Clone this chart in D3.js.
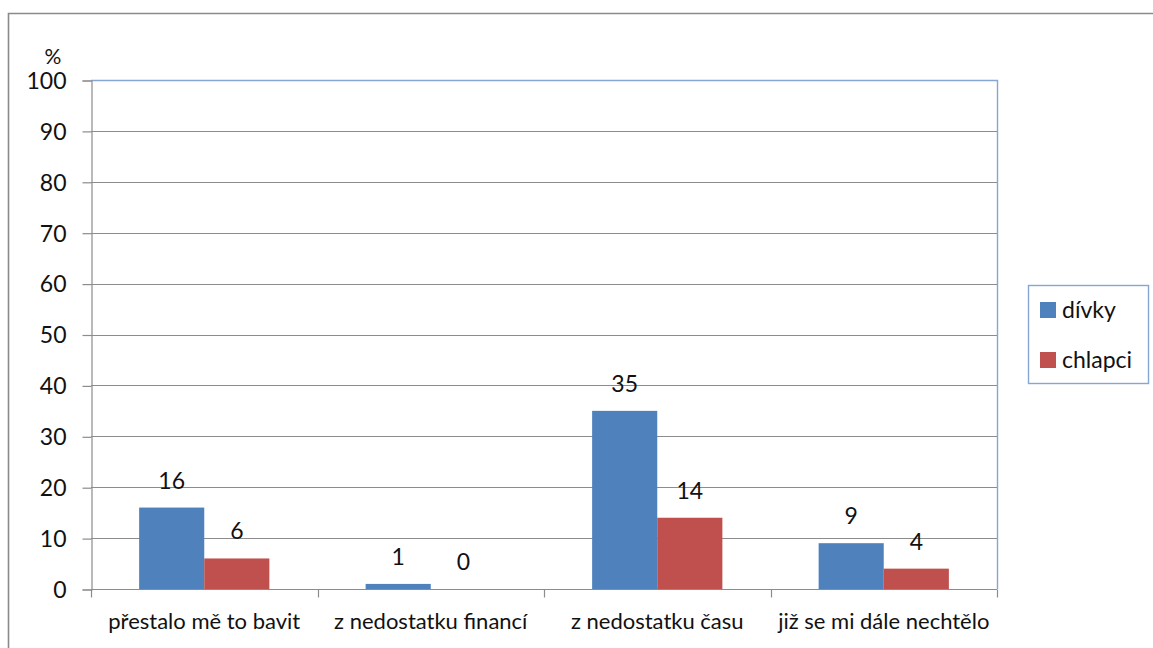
<!DOCTYPE html>
<html>
<head>
<meta charset="utf-8">
<script src="https://cdn.jsdelivr.net/npm/d3@7"></script>
<style>
  html, body { margin: 0; padding: 0; background: #fff; overflow: hidden; }
  svg { display: block; }
  text { font-family: Lato, "Open Sans", sans-serif; fill: #111; }
</style>
</head>
<body>
<svg id="chart" width="1153" height="648"></svg>
<script>
// Reasons for quitting, percent of respondents
const categories = ["přestalo mě to bavit", "z nedostatku financí", "z nedostatku času", "již se mi dále nechtělo"];
const seriesNames = ["dívky", "chlapci"];
const divky = [16, 1, 35, 9];
const chlapci = [6, 0, 14, 4];
const yTicks = [0, 10, 20, 30, 40, 50, 60, 70, 80, 90, 100];
const colors = ["#4f81bd", "#c0504d"];

const svg = d3.select("#chart");
const W = 1153, H = 648;
const plot = { left: 91, right: 997, top: 80, bottom: 589 };

// outer frame (runs off the right and bottom edges)
svg.append("path")
  .attr("d", `M8.5,${H + 5} V13.5 H${W + 5}`)
  .attr("fill", "none")
  .attr("stroke", "#8a8a8a")
  .attr("stroke-width", 1.6);

const x0 = d3.scaleBand().domain(categories).range([plot.left, plot.right]).paddingInner(0).paddingOuter(0);
const groupW = x0.bandwidth() * 0.575;
const x1 = d3.scaleBand().domain(seriesNames).range([0, groupW]).padding(0);
const y = d3.scaleLinear().domain([0, 100]).range([plot.bottom, plot.top]);

// gridlines
svg.append("g")
  .selectAll("line")
  .data(yTicks.filter(t => t > 0 && t < 100))
  .join("line")
  .attr("x1", plot.left).attr("x2", plot.right)
  .attr("y1", d => Math.round(y(d)) + 0.5).attr("y2", d => Math.round(y(d)) + 0.5)
  .attr("stroke", "#8c8c8c").attr("stroke-width", 1.2);

// plot area border (top and right)
svg.append("path")
  .attr("d", `M${plot.left},${plot.top + 0.5} H${plot.right + 0.5} V${plot.bottom}`)
  .attr("fill", "none")
  .attr("stroke", "#86a6d6")
  .attr("stroke-width", 1.4);

// y axis
const yAxis = d3.axisLeft(y).tickValues(yTicks).tickSize(9).tickPadding(16);
const gy = svg.append("g").attr("transform", `translate(${plot.left + 0.5},0.5)`).call(yAxis);
gy.select(".domain").attr("stroke", "#8c8c8c").attr("stroke-width", 1.2);
gy.selectAll(".tick line").attr("stroke", "#8c8c8c").attr("stroke-width", 1.2);
gy.selectAll(".tick text")
  .style("font-family", "Lato, sans-serif")
  .style("font-size", "23px")
  .attr("dy", "0.34em")
  .attr("fill", "#111");

// x axis: ticks at category boundaries
const gx = svg.append("g").attr("transform", `translate(0,${plot.bottom + 0.5})`);
gx.append("line")
  .attr("x1", plot.left).attr("x2", plot.right)
  .attr("stroke", "#8c8c8c").attr("stroke-width", 1.2);
const bounds = categories.map(c => x0(c)).concat([plot.right]);
gx.selectAll("line.tk")
  .data(bounds)
  .join("line")
  .attr("class", "tk")
  .attr("x1", d => Math.round(d) + 0.5).attr("x2", d => Math.round(d) + 0.5)
  .attr("y1", 0).attr("y2", 8)
  .attr("stroke", "#8c8c8c").attr("stroke-width", 1.2);
gx.selectAll("text")
  .data(categories)
  .join("text")
  .attr("x", d => x0(d) + x0.bandwidth() / 2)
  .attr("y", 39)
  .attr("text-anchor", "middle")
  .style("font-size", "22px")
  .text(d => d);

// "%" unit label
svg.append("text")
  .attr("x", 53).attr("y", 64)
  .attr("text-anchor", "middle")
  .style("font-size", "21px")
  .text("%");

// bars
const rows = categories.map((c, i) => ({ cat: c, vals: [divky[i], chlapci[i]] }));
const groups = svg.append("g")
  .selectAll("g")
  .data(rows)
  .join("g")
  .attr("transform", d => `translate(${x0(d.cat) + (x0.bandwidth() - groupW) / 2},0)`);

groups.selectAll("rect")
  .data(d => d.vals.map((v, j) => ({ name: seriesNames[j], v, j })))
  .join("rect")
  .attr("x", d => x1(d.name))
  .attr("width", x1.bandwidth())
  .attr("y", d => y(d.v))
  .attr("height", d => y(0) - y(d.v))
  .attr("fill", d => colors[d.j]);

groups.selectAll("text")
  .data(d => d.vals.map((v, j) => ({ name: seriesNames[j], v, j })))
  .join("text")
  .attr("x", d => x1(d.name) + x1.bandwidth() / 2)
  .attr("y", d => y(d.v) - 19)
  .attr("text-anchor", "middle")
  .style("font-size", "23px")
  .text(d => d.v);

// legend
const lg = svg.append("g").attr("transform", "translate(1028,285)");
lg.append("rect")
  .attr("x", 0.5).attr("y", 0.5)
  .attr("width", 120).attr("height", 98)
  .attr("fill", "#fff")
  .attr("stroke", "#86a6d6").attr("stroke-width", 1.4);
const items = lg.selectAll("g.item")
  .data(seriesNames)
  .join("g")
  .attr("class", "item")
  .attr("transform", (d, i) => `translate(12,${17 + i * 50})`);
items.append("rect")
  .attr("width", 16).attr("height", 16)
  .attr("fill", (d, i) => colors[i]);
items.append("text")
  .attr("x", 22).attr("y", 16)
  .style("font-size", "23px")
  .text(d => d);
</script>
</body>
</html>
